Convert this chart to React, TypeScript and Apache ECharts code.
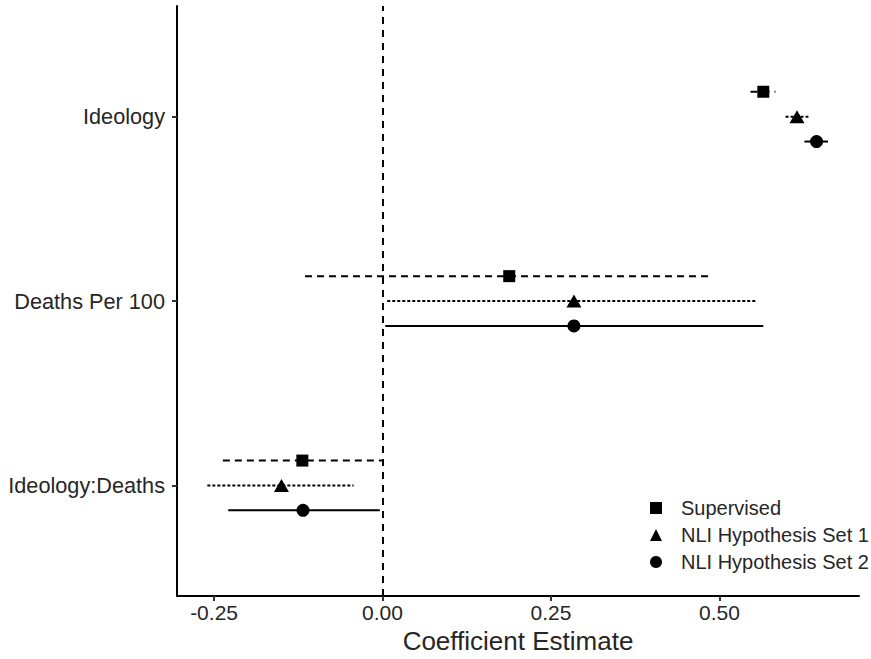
import React, { useEffect, useRef } from 'react';
import * as echarts from 'echarts';

// Categories on the y axis (bottom to top)
const categories = ['Ideology:Deaths', 'Deaths Per 100', 'Ideology'];
const methods = ['Supervised', 'NLI Hypothesis Set 1', 'NLI Hypothesis Set 2'];
const xTicks = [-0.25, 0, 0.25, 0.5];
const yTicks = [1, 2, 3];

// Estimates and 95% intervals, in category order above
const supervisedEst = [-0.119, 0.188, 0.565];
const supervisedLow = [-0.237, -0.115, 0.546];
const supervisedHigh = [-0.001, 0.488, 0.583];

const nli1Est = [-0.15, 0.284, 0.615];
const nli1Low = [-0.26, 0.007, 0.598];
const nli1High = [-0.043, 0.555, 0.632];

const nli2Est = [-0.118, 0.284, 0.644];
const nli2Low = [-0.229, 0.004, 0.626];
const nli2High = [-0.004, 0.565, 0.661];

const estimates = [supervisedEst, nli1Est, nli2Est];
const lows = [supervisedLow, nli1Low, nli2Low];
const highs = [supervisedHigh, nli1High, nli2High];

// styling / layout
const dodge = [0.135, 0, -0.135];
const symbols = ['rect', 'triangle', 'circle'];
const symbolSizes: any[] = [12, [15, 13], 13];
const dashes: any[] = [[7, 5], [3, 2], 'solid'];
const FONT = '"Liberation Sans", Arial, Helvetica, sans-serif';
const TEXT = '#262626';

export default function App() {
  const ref = useRef<HTMLDivElement>(null);
  useEffect(() => {
    if (!ref.current) return;
    const chart = echarts.init(ref.current, null, { renderer: 'svg' });

    const series: any[] = [];
    methods.forEach((m, i) => {
      series.push({
        name: m + ' interval',
        type: 'custom',
        silent: true,
        encode: { x: [0, 1], y: 2 },
        data: categories.map((_, c) => [lows[i][c], highs[i][c], c + 1 + dodge[i]]),
        renderItem: (params: any, api: any) => {
          const lo = api.value(0);
          const hi = api.value(1);
          const y = api.value(2);
          const p1 = api.coord([lo, y]);
          const p2 = api.coord([hi, y]);
          return {
            type: 'line',
            shape: { x1: p1[0], y1: p1[1], x2: p2[0], y2: p2[1] },
            style: {
              stroke: '#000',
              lineWidth: 2,
              lineDash: dashes[i] === 'solid' ? null : dashes[i],
            },
          };
        },
        z: 2,
      });
    });
    methods.forEach((m, i) => {
      const s: any = {
        name: m,
        type: 'scatter',
        symbol: symbols[i],
        symbolSize: symbolSizes[i],
        itemStyle: { color: '#000', opacity: 1 },
        data: categories.map((_, c) => [estimates[i][c], c + 1 + dodge[i]]),
        z: 3,
      };
      if (i === 0) {
        s.markLine = {
          silent: true,
          symbol: 'none',
          label: { show: false },
          lineStyle: { color: '#000', width: 2, type: [7, 6] },
          data: [{ xAxis: 0 }],
          z: 1,
        };
      }
      series.push(s);
    });

    chart.setOption({
      animation: false,
      backgroundColor: '#fff',
      grid: { left: 177, right: 12, top: 6, bottom: 55, containLabel: false },
      xAxis: {
        type: 'value',
        min: -0.305,
        max: 0.707,
        name: 'Coefficient Estimate',
        nameLocation: 'middle',
        nameGap: 30,
        nameTextStyle: { fontSize: 26, color: TEXT, fontFamily: FONT },
        axisLine: { show: true, onZero: false, lineStyle: { color: '#000', width: 2 } },
        axisTick: {
          show: true,
          length: 5,
          customValues: xTicks,
          lineStyle: { color: '#333', width: 2 },
        },
        axisLabel: {
          customValues: xTicks,
          formatter: (v: number) => v.toFixed(2),
          fontSize: 21,
          color: TEXT,
          margin: 6,
          fontFamily: FONT,
        },
        splitLine: { show: false },
      },
      yAxis: {
        type: 'value',
        min: 0.4,
        max: 3.6,
        axisLine: { show: true, onZero: false, lineStyle: { color: '#000', width: 2 } },
        axisTick: {
          show: true,
          length: 5,
          customValues: yTicks,
          lineStyle: { color: '#333', width: 2 },
        },
        axisLabel: {
          customValues: yTicks,
          formatter: (v: number) => categories[Math.round(v) - 1] ?? '',
          fontSize: 21.7,
          color: TEXT,
          margin: 12,
          fontFamily: FONT,
        },
        splitLine: { show: false },
      },
      legend: {
        orient: 'vertical',
        left: 645,
        top: 493,
        itemWidth: 12,
        itemHeight: 12,
        itemGap: 7,
        data: methods.map((m, i) => ({
          name: m,
          icon: symbols[i],
          itemStyle: { color: '#000' },
        })),
        textStyle: {
          fontSize: 20,
          color: TEXT,
          fontFamily: FONT,
          lineHeight: 20,
          padding: [0, 0, 0, 14],
        },
      },
      series,
    });
    return () => chart.dispose();
  }, []);
  return (
    <div
      ref={ref}
      style={{ position: 'fixed', left: 0, top: 0, width: 871, height: 659 }}
    />
  );
}
